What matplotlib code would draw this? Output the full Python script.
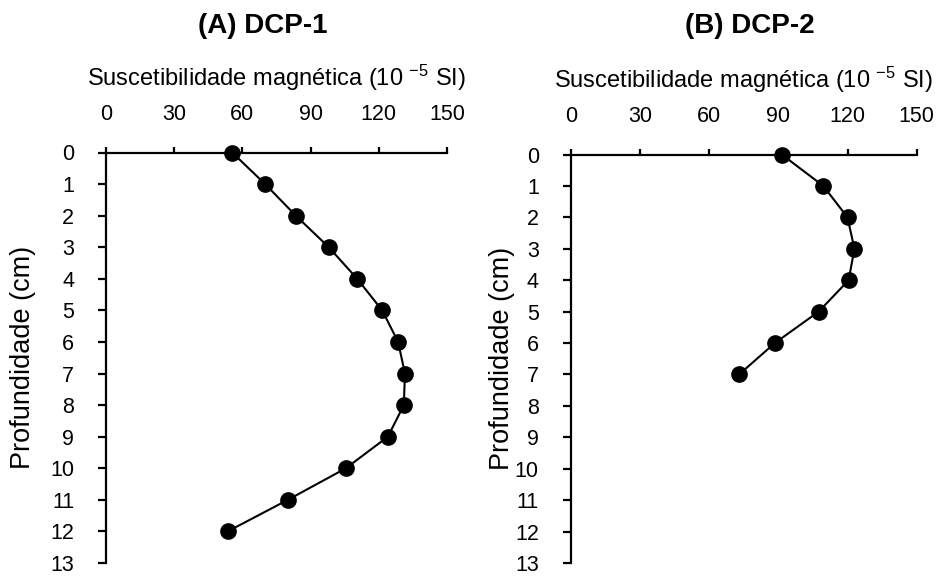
import matplotlib
matplotlib.use("Agg")
import matplotlib.pyplot as plt

plt.rcParams["font.family"] = ["Liberation Sans", "DejaVu Sans"]
plt.rcParams["mathtext.fontset"] = "custom"
plt.rcParams["mathtext.rm"] = "Liberation Sans"
plt.rcParams["mathtext.it"] = "Liberation Sans:italic"
plt.rcParams["mathtext.bf"] = "Liberation Sans:bold"

# Magnetic susceptibility profiles (10^-5 SI) by depth (cm)
depth_dcp1 = [0, 1, 2, 3, 4, 5, 6, 7, 8, 9, 10, 11, 12]
susc_dcp1 = [55.5, 70.0, 83.5, 98.0, 110.5, 121.5, 128.5, 131.5, 131.0, 124.0, 105.5, 80.0, 53.5]

depth_dcp2 = [0, 1, 2, 3, 4, 5, 6, 7]
susc_dcp2 = [91.5, 109.5, 120.0, 123.0, 120.5, 107.5, 88.5, 73.0]

titles = ["(A) DCP-1", "(B) DCP-2"]
xlabel = "Suscetibilidade magnética (10 $^{-5}$ SI)"
ylabel = "Profundidade (cm)"
xticks = [0, 30, 60, 90, 120, 150]
yticks = list(range(0, 14))

fig = plt.figure(figsize=(9.45, 5.76), dpi=100)
W, H = 945, 576

def make_axes(left_px, right_px, top_px, bottom_px):
    return fig.add_axes([left_px / W, 1 - bottom_px / H,
                         (right_px - left_px) / W, (bottom_px - top_px) / H])

ax1 = make_axes(106, 447, 152.5, 563)
ax2 = make_axes(570.7, 916.7, 154.5, 563)

panels = [(ax1, depth_dcp1, susc_dcp1, titles[0], 0.46, 152.5, 410.5, 10),
          (ax2, depth_dcp2, susc_dcp2, titles[1], 0.518, 154.5, 408.5, 0)]

for ax, d, s, title, tx, top_px, h_px, ylpad in panels:
    ax.plot(s, d, color="black", lw=1.5, marker="o", markersize=11,
            markerfacecolor="black", markeredgecolor="black", clip_on=False, zorder=3)
    ax.set_xlim(0, 150)
    ax.set_ylim(13, 0)
    ax.set_xticks(xticks)
    ax.set_yticks(yticks)
    ax.xaxis.tick_top()
    ax.xaxis.set_label_position("top")
    for side in ("right", "bottom"):
        ax.spines[side].set_visible(False)
    for side in ("top", "left"):
        ax.spines[side].set_linewidth(1.6)
        ax.spines[side].set_color("black")
    ax.tick_params(axis="x", direction="out", length=4.5, width=1.6,
                   labelsize=15.5, pad=15)
    ax.tick_params(axis="y", direction="out", length=6, width=1.6,
                   labelsize=15.5, pad=17)
    ax.set_xlabel(xlabel, fontsize=17, labelpad=13)
    ax.set_ylabel(ylabel, fontsize=19.5, labelpad=ylpad)
    # panel title, centred at a fixed height above the axes
    ax.text(tx, 1 + (top_px - 26) / h_px, title, transform=ax.transAxes,
            ha="center", va="center", fontsize=20, fontweight="bold")

fig.savefig("out.png", dpi=100)
